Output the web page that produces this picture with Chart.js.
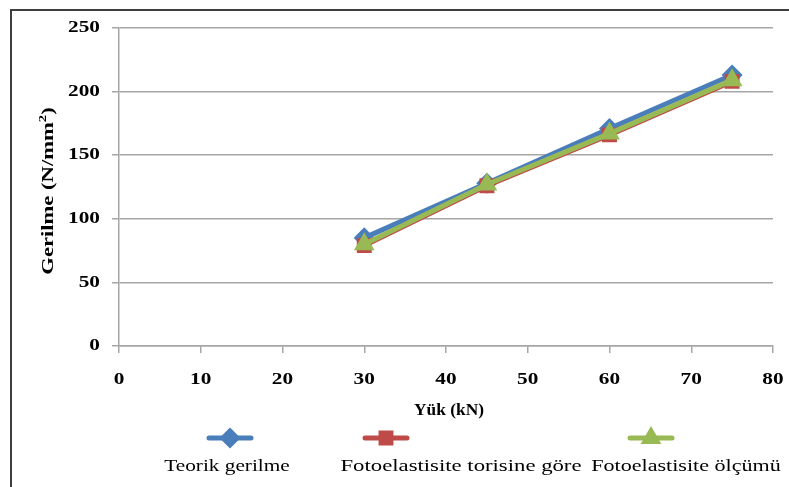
<!DOCTYPE html>
<html>
<head>
<meta charset="utf-8">
<script src="https://cdn.jsdelivr.net/npm/chart.js@4.4.1/dist/chart.umd.min.js"></script>
<style>
  html, body { margin: 0; padding: 0; background: #fff; }
  #wrap { width: 789px; height: 487px; position: relative; }
</style>
</head>
<body>
<div id="wrap"><canvas id="grafik" width="789" height="487"></canvas></div>
<script>
// veriler
const yukDegerleri = [30, 45, 60, 75];
const teorikGerilme = [85, 128, 171, 213];
const fotoTeori = [79, 126, 166, 208];
const fotoOlcum = [80, 127, 167, 209];
const xTicks = [0, 10, 20, 30, 40, 50, 60, 70, 80];
const yTicks = [0, 50, 100, 150, 200, 250];
const seriAdlari = ['Teorik gerilme', 'Fotoelastisite torisine göre', 'Fotoelastisite ölçümü'];

const renkler = ['#4a7ebb', '#be4b48', '#98b954'];
const isaretler = ['rectRot', 'rect', 'triangle'];
const yazi = '"Liberation Serif"';
const GENIS = 1.33; // yazilar resimde yatay olarak genis

function noktalar(ys) {
    return yukDegerleri.map((x, i) => ({ x: x, y: ys[i] }));
}

// yatay olarak gerilmis yazi
function yaz(ctx, metin, x, y, font, hiza, genis) {
    const g = genis || GENIS;
    ctx.save();
    ctx.font = font;
    ctx.textAlign = 'left';
    ctx.textBaseline = 'middle';
    const w = ctx.measureText(metin).width * g;
    let x0 = x;
    if (hiza === 'center') x0 = x - w / 2;
    if (hiza === 'right') x0 = x - w;
    ctx.translate(x0, y);
    ctx.scale(g, 1);
    ctx.fillText(metin, 0, 0);
    ctx.restore();
    return w;
}

const ekstraCizim = {
    id: 'ekstraCizim',
    afterDraw(chart) {
        const ctx = chart.ctx;
        const sx = chart.scales.x, sy = chart.scales.y;
        ctx.save();
        // cerceve (sol ve ust)
        ctx.strokeStyle = '#3f3f3f';
        ctx.lineWidth = 2;
        ctx.beginPath();
        ctx.moveTo(11, 487);
        ctx.lineTo(11, 10);
        ctx.lineTo(789, 10);
        ctx.stroke();

        ctx.fillStyle = '#000';
        // tick yazilari
        sy.ticks.forEach(t => yaz(ctx, String(t.value), 100, sy.getPixelForValue(t.value), 'bold 16px ' + yazi, 'right'));
        sx.ticks.forEach(t => yaz(ctx, String(t.value), sx.getPixelForValue(t.value), 380, 'bold 16px ' + yazi, 'center'));

        // x basligi
        yaz(ctx, 'Yük (kN)', 449, 411, 'bold 17px ' + yazi, 'center', 1.02);

        // y basligi (dondurulmus, ust simge ile)
        ctx.save();
        ctx.translate(49, 191);
        ctx.rotate(-Math.PI / 2);
        ctx.font = 'bold 17px ' + yazi;
        const w1 = ctx.measureText('Gerilme (N/mm').width * GENIS;
        ctx.font = 'bold 11px ' + yazi;
        const w2 = ctx.measureText('2').width * GENIS;
        ctx.font = 'bold 17px ' + yazi;
        const w3 = ctx.measureText(')').width * GENIS;
        const bas = -(w1 + w2 + w3) / 2;
        yaz(ctx, 'Gerilme (N/mm', bas, 0, 'bold 17px ' + yazi, 'left');
        yaz(ctx, '2', bas + w1, -6, 'bold 11px ' + yazi, 'left');
        yaz(ctx, ')', bas + w1 + w2, 0, 'bold 17px ' + yazi, 'left');
        ctx.restore();

        // legend
        const merkezX = [230, 386, 651];
        const metinX = [227, 461, 686];
        const metinGenis = [1.33, 1.42, 1.38];
        chart.data.datasets.forEach((ds, i) => {
            const cx = merkezX[i];
            ctx.strokeStyle = ds.borderColor;
            ctx.lineWidth = 5;
            ctx.lineCap = 'round';
            ctx.beginPath();
            ctx.moveTo(cx - 21, 438);
            ctx.lineTo(cx + 21, 438);
            ctx.stroke();
            ctx.fillStyle = ds.borderColor;
            ctx.beginPath();
            Chart.helpers.drawPoint(ctx, {
                pointStyle: ds.pointStyle, radius: 7, borderWidth: 1, rotation: 0
            }, cx, 438);
            ctx.fillStyle = '#000';
            yaz(ctx, ds.label, metinX[i], 467, '16px ' + yazi, 'center', metinGenis[i]);
        });
        ctx.restore();
    }
};

new Chart(document.getElementById('grafik'), {
    type: 'line',
    data: {
        datasets: [
            { label: seriAdlari[0], data: noktalar(teorikGerilme), borderColor: renkler[0], backgroundColor: renkler[0], pointStyle: isaretler[0], order: 2 },
            { label: seriAdlari[1], data: noktalar(fotoTeori), borderColor: renkler[1], backgroundColor: renkler[1], pointStyle: isaretler[1], order: 1 },
            { label: seriAdlari[2], data: noktalar(fotoOlcum), borderColor: renkler[2], backgroundColor: renkler[2], pointStyle: isaretler[2], order: 0 }
        ].map(d => Object.assign(d, { borderWidth: 5, pointRadius: 7, pointHoverRadius: 7, tension: 0, fill: false }))
    },
    options: {
        responsive: false,
        animation: false,
        layout: { padding: { left: 0, right: 16, top: 28, bottom: 0 } },
        plugins: { legend: { display: false }, tooltip: { enabled: false } },
        scales: {
            x: {
                type: 'linear', min: 0, max: 80,
                afterBuildTicks: (s) => { s.ticks = xTicks.map(v => ({ value: v })); },
                afterFit: (s) => { s.height = 141; s.paddingLeft = 0; s.paddingRight = 0; },
                grid: { drawOnChartArea: false, drawTicks: true, tickLength: 7, color: '#a6a6a6', lineWidth: 1.5 },
                border: { color: '#a6a6a6', width: 1.5 },
                ticks: { display: false }
            },
            y: {
                min: 0, max: 250,
                afterBuildTicks: (s) => { s.ticks = yTicks.map(v => ({ value: v })); },
                afterFit: (s) => { s.width = 119; s.paddingTop = 0; s.paddingBottom = 0; },
                grid: { drawOnChartArea: true, drawTicks: true, tickLength: 7, color: '#a6a6a6', lineWidth: 1.5 },
                border: { color: '#a6a6a6', width: 1.5 },
                ticks: { display: false }
            }
        }
    },
    plugins: [ekstraCizim]
});
</script>
</body>
</html>
